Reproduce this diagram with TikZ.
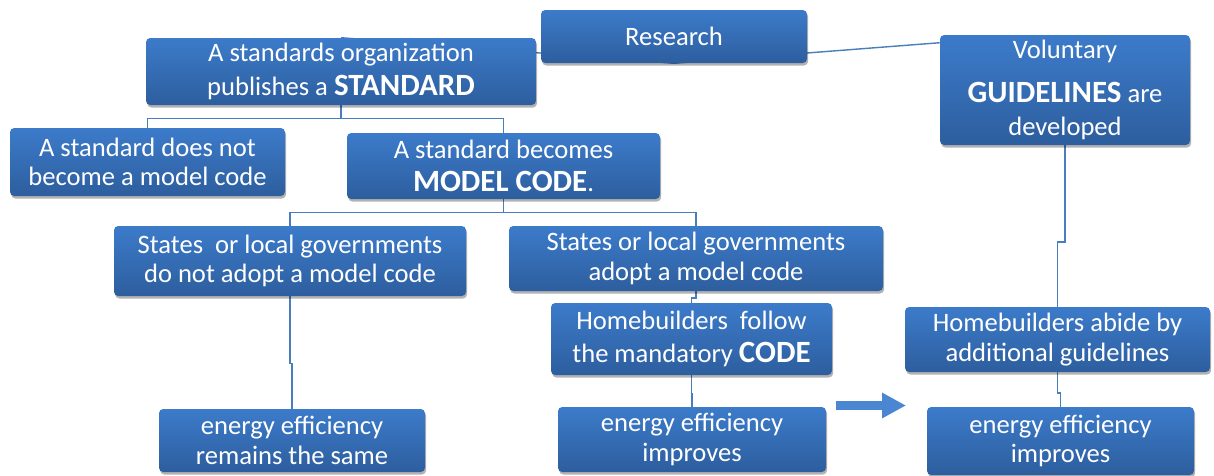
\documentclass[tikz,border=0pt]{standalone}
\usepackage{fontspec}
\setmainfont{Carlito}
\usepackage{tikz}
\usetikzlibrary{arrows.meta, backgrounds, shadows, calc}

\definecolor{boxtop}{HTML}{3C7BCA}
\definecolor{boxbot}{HTML}{2D5E9E}
\definecolor{linkblue}{HTML}{4A7DBB}
\definecolor{arrowblue}{HTML}{4A86D2}

\newcommand{\bigword}[1]{{\fontsize{22}{22}\selectfont\bfseries #1}}

\begin{document}
\begin{tikzpicture}[x=0.025cm, y=-0.025cm,
	box/.style={rectangle, rounded corners=3pt, top color=boxtop, bottom color=boxbot,
		text=white, align=center, inner sep=0pt,
		font=\fontsize{18.9}{20.8}\selectfont,
		drop shadow={shadow xshift=0.8pt, shadow yshift=-1.8pt, opacity=.3, fill=black}},
	boxdim/.style 2 args={minimum width=#1*0.025cm, minimum height=#2*0.025cm},
	link/.style={draw=linkblue, line width=1pt},
	elbow/.style={to path={|- ($(\tikztostart)!.6!(\tikztotarget)$) -| (\tikztotarget)}}]
	\useasboundingbox (0,0) rectangle (1214,475);
	% top row
	\node[box, boxdim={266}{53}] (res) at (674,36.5) {Research};
	\node[box, boxdim={390}{67}] (std) at (341,71.5) {A standards organization\\[3pt]publishes a \bigword{STANDARD}};
	\node[box, boxdim={250}{110}] (vol) at (1065,90) {Voluntary\\[10pt]\bigword{GUIDELINES} are\\[3pt]developed};
	% model code or not
	\node[box, boxdim={275}{68}] (notmc) at (147.5,162) {A standard does not\\become a model code};
	\node[box, boxdim={313}{66}] (mc) at (503.5,166) {A standard becomes\\[3pt]\bigword{MODEL CODE}.};
	% adoption
	\node[box, boxdim={352}{70}] (noadopt) at (290,261) {States\ \ or local governments\\do not adopt a model code};
	\node[box, boxdim={374}{65}] (adopt) at (696,258.5) {States or local governments\\adopt a model code};
	\node[box, boxdim={281}{72}] (follow) at (691.5,339) {Homebuilders\ \ follow\\[3pt]the mandatory \bigword{CODE}};
	\node[box, boxdim={305}{65}] (abide) at (1057.5,339.5) {Homebuilders abide by\\additional guidelines};
	% outcomes
	\node[box, boxdim={266}{63}] (same) at (292,440.5) {energy efficiency\\remains the same};
	\node[box, boxdim={268}{65}] (better) at (692,439.5) {energy efficiency\\improves};
	\node[box, boxdim={267}{68}] (best) at (1060.5,441) {energy efficiency\\improves};
	% connectors
	\begin{scope}[on background layer]
		\draw[link] (std.north) -- (res.south) -- ([yshift=-0.2cm]vol.north west);
		\coordinate (bar1) at ([yshift=-0.325cm]std.south);
		\coordinate (bar2) at ([yshift=-0.325cm]mc.south);
		\draw[link] (std.south) -- (bar1) (notmc.north) |- (bar1) -| (mc.north);
		\draw[link] (mc.south) -- (bar2) (noadopt.north) |- (bar2) -| (adopt.north);
		\draw[link] (noadopt.south) to[elbow] (same.north);
		\draw[link] (adopt.south) to[elbow] (follow.north);
		\draw[link] (follow.south) to[elbow] (better.north);
		\draw[link] (vol.south) to[elbow] (abide.north);
		\draw[link] (abide.south) to[elbow] (best.north);
	\end{scope}
	\coordinate (arrS) at (836,405.5);
	\coordinate (arrE) at (906,405.5);
	\draw[arrowblue, line width=6.4pt, -{Triangle[length=17pt, width=17pt]}] (arrS) -- (arrE);
\end{tikzpicture}
\end{document}
